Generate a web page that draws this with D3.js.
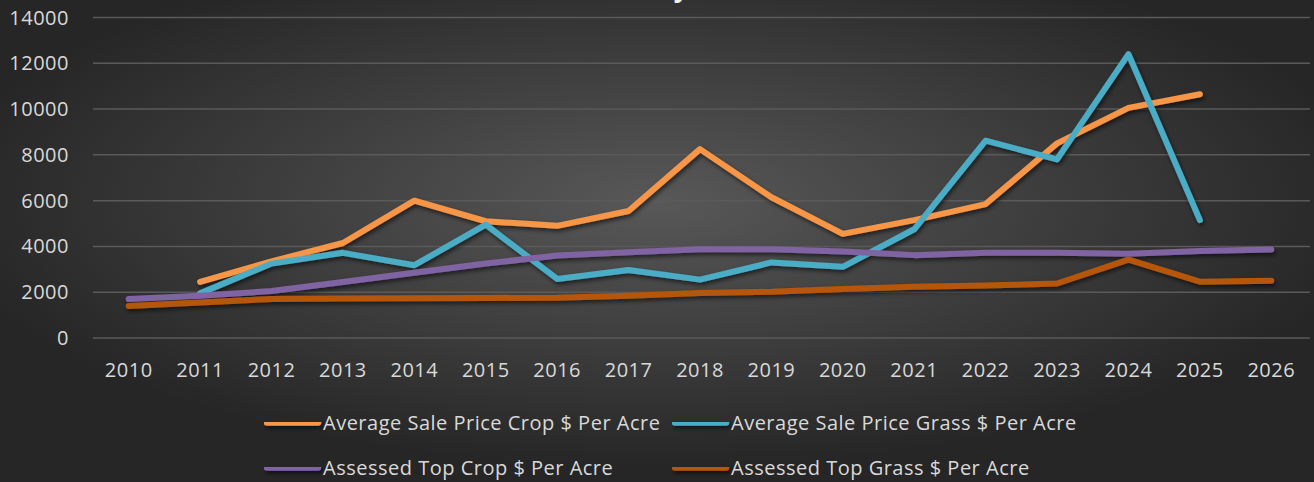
<!DOCTYPE html>
<meta charset="utf-8">
<title>Land Values by Year</title>
<style>
  body { margin: 0; background: #262626; }
  text { font-family: "Open Sans", sans-serif; }
</style>
<body>
<script src="https://d3js.org/d3.v7.min.js"></script>
<script>

const years = [2010, 2011, 2012, 2013, 2014, 2015, 2016, 2017, 2018, 2019, 2020, 2021, 2022, 2023, 2024, 2025, 2026];
const yTicks = [0, 2000, 4000, 6000, 8000, 10000, 12000, 14000];

// null = no value for that year
const saleCrop  = [null, 2450, 3350, 4150, 6000, 5100, 4900, 5550, 8250, 6150, 4550, 5150, 5850, 8500, 10050, 10650, null];
const saleGrass = [null, 1950, 3250, 3720, 3180, 4950, 2580, 2970, 2550, 3300, 3110, 4750, 8620, 7800, 12400, 5150, null];
const topCrop   = [1700, 1850, 2050, 2450, 2850, 3250, 3600, 3750, 3880, 3880, 3780, 3620, 3720, 3720, 3680, 3800, 3870];
const topGrass  = [1400, 1550, 1700, 1720, 1740, 1750, 1760, 1850, 1970, 2020, 2140, 2240, 2290, 2380, 3420, 2460, 2500];

const series = [
  { name: "Average Sale Price Crop $ Per Acre",  values: saleCrop,  color: "#F79646" },
  { name: "Average Sale Price Grass $ Per Acre", values: saleGrass, color: "#4BACC6" },
  { name: "Assessed Top Crop $ Per Acre",        values: topCrop,   color: "#8064A2" },
  { name: "Assessed Top Grass $ Per Acre",       values: topGrass,  color: "#B65708" }
];

const W = 1314, H = 482;
const plot = { left: 93, right: 1307, top: 17.5, bottom: 338 };

const svg = d3.select('body').append('svg')
    .attr('width', W)
    .attr('height', H);

const defs = svg.append('defs');
const grad = defs.append('radialGradient')
    .attr('id', 'bg')
    .attr('cx', 0.5).attr('cy', 0.42).attr('r', 0.55);
grad.append('stop').attr('offset', '0%').attr('stop-color', '#585858');
grad.append('stop').attr('offset', '100%').attr('stop-color', '#262626');

// user space filter region so flat legend lines still get a shadow
const shadow = defs.append('filter')
    .attr('id', 'shadow')
    .attr('filterUnits', 'userSpaceOnUse')
    .attr('x', 0).attr('y', 0).attr('width', W).attr('height', H);
shadow.append('feDropShadow')
    .attr('dx', 1.5).attr('dy', 2.5)
    .attr('stdDeviation', 2)
    .attr('flood-color', '#000')
    .attr('flood-opacity', 0.6);

svg.append('rect')
    .attr('width', W)
    .attr('height', H)
    .attr('fill', 'url(#bg)');

// title sits almost entirely above the visible area
svg.append('text')
    .attr('x', 737)
    .attr('y', -3)
    .attr('text-anchor', 'middle')
    .attr('fill', '#f2f2f2')
    .style('font-size', '26px')
    .style('font-weight', 'bold')
    .text('Land Values by Year, Sale vs Assessed');

const x = d3.scalePoint()
    .domain(years)
    .range([plot.left, plot.right])
    .padding(0.5);

const y = d3.scaleLinear()
    .domain([0, 14000])
    .range([plot.bottom, plot.top]);

// gridlines
svg.append('g')
    .selectAll('line')
    .data(yTicks)
    .enter().append('line')
        .attr('x1', plot.left)
        .attr('x2', 1310)
        .attr('y1', d => y(d))
        .attr('y2', d => y(d))
        .attr('stroke', '#5a5a5a')
        .attr('stroke-width', 1.5);

// y axis labels
svg.append('g')
    .selectAll('text')
    .data(yTicks)
    .enter().append('text')
        .attr('x', 69)
        .attr('y', d => y(d))
        .attr('dy', '0.35em')
        .attr('text-anchor', 'end')
        .attr('fill', '#d9d9d9')
        .style('font-size', '20px')
        .style('letter-spacing', '0.5px')
        .text(d => d);

// x axis labels
svg.append('g')
    .selectAll('text')
    .data(years)
    .enter().append('text')
        .attr('x', d => x(d))
        .attr('y', 377)
        .attr('text-anchor', 'middle')
        .attr('fill', '#d9d9d9')
        .style('font-size', '20px')
        .style('letter-spacing', '0.5px')
        .text(d => d);

const line = d3.line()
    .defined(d => d.v != null)
    .x(d => x(d.year))
    .y(d => y(d.v));

svg.append('g')
    .attr('filter', 'url(#shadow)')
    .selectAll('path')
    .data(series)
    .enter().append('path')
        .attr('d', s => line(years.map((yr, i) => ({ year: yr, v: s.values[i] }))))
        .attr('fill', 'none')
        .attr('stroke', s => s.color)
        .attr('stroke-width', 6)
        .attr('stroke-linecap', 'round')
        .attr('stroke-linejoin', 'round');

// legend, two rows of two
const legendPos = [
    { x: 264, y: 422.5 },
    { x: 672, y: 422.5 },
    { x: 264, y: 467.5 },
    { x: 672, y: 467.5 }
];

const legend = svg.append('g')
    .selectAll('g')
    .data(series)
    .enter().append('g')
        .attr('transform', (d, i) => `translate(${legendPos[i].x},${legendPos[i].y})`);

legend.append('line')
    .attr('x1', 3)
    .attr('x2', 54)
    .attr('stroke', d => d.color)
    .attr('stroke-width', 6.5)
    .attr('stroke-linecap', 'round')
    .attr('filter', 'url(#shadow)');

legend.append('text')
    .attr('x', 59)
    .attr('dy', '0.35em')
    .attr('fill', '#d9d9d9')
    .style('font-size', '20px')
    .style('letter-spacing', '0.5px')
    .text(d => d.name);

</script>
</body>
